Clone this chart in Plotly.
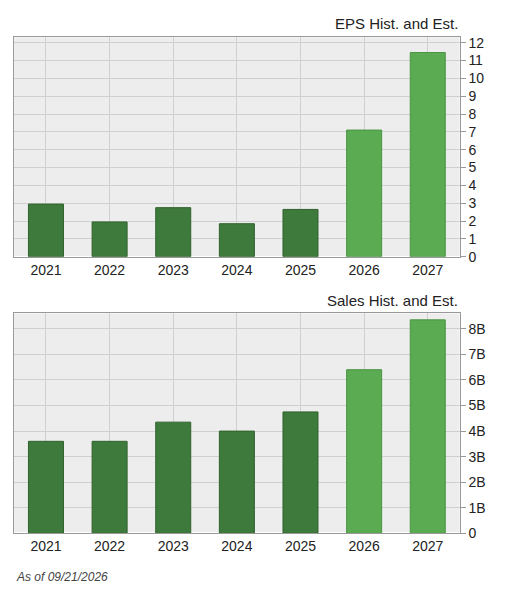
import plotly.graph_objects as go

years = ["2021", "2022", "2023", "2024", "2025", "2026", "2027"]
eps = [2.95, 1.95, 2.75, 1.85, 2.65, 7.1, 11.45]
sales = [3.6e9, 3.6e9, 4.35e9, 4.0e9, 4.75e9, 6.4e9, 8.35e9]
is_est = [False, False, False, False, False, True, True]

colors = ["#5aab52" if e else "#3e7a3b" for e in is_est]
line_colors = ["#4a9443" if e else "#2f622d" for e in is_est]

fig = go.Figure()
fig.add_trace(go.Bar(x=years, y=eps, marker=dict(color=colors, line=dict(color=line_colors, width=1)),
                     width=0.55, xaxis="x", yaxis="y"))
fig.add_trace(go.Bar(x=years, y=sales, marker=dict(color=colors, line=dict(color=line_colors, width=1)),
                     width=0.55, xaxis="x2", yaxis="y2"))

axis_common = dict(showline=True, linecolor="#999", mirror=True, gridcolor="#d0d0d0",
                   tickfont=dict(family="Liberation Sans, Arial", size=14, color="#222"))
fig.update_layout(
    width=512, height=596, margin=dict(l=0, r=0, t=0, b=0),
    paper_bgcolor="white", plot_bgcolor="#ededed", showlegend=False,
    font=dict(family="Liberation Sans, Arial", color="#222"),
    xaxis=dict(domain=[0.012, 0.882], anchor="y", ticks="", **axis_common),
    yaxis=dict(domain=[0.58, 0.955], side="right", range=[0, 12.3], dtick=1, ticks="outside",
               ticklen=5, tickcolor="#999", **axis_common),
    xaxis2=dict(domain=[0.012, 0.882], anchor="y2", ticks="", **axis_common),
    yaxis2=dict(domain=[0.107, 0.483], side="right", range=[0, 8.6e9], dtick=1e9, ticks="outside",
                ticklen=5, tickcolor="#999", tickvals=[i * 1e9 for i in range(9)],
                ticktext=["0"] + [f"{i}B" for i in range(1, 9)], **axis_common),
    annotations=[
        dict(text="EPS Hist. and Est.", x=0.882, y=0.96, xref="paper", yref="paper",
             xanchor="right", yanchor="bottom", showarrow=False, font=dict(size=15)),
        dict(text="Sales Hist. and Est.", x=0.882, y=0.488, xref="paper", yref="paper",
             xanchor="right", yanchor="bottom", showarrow=False, font=dict(size=15)),
        dict(text="<i>As of 09/21/2026</i>", x=0.012, y=0.033, xref="paper", yref="paper",
             xanchor="left", yanchor="middle", showarrow=False, font=dict(size=12, color="#444")),
    ],
)

fig.write_html("out.html")
